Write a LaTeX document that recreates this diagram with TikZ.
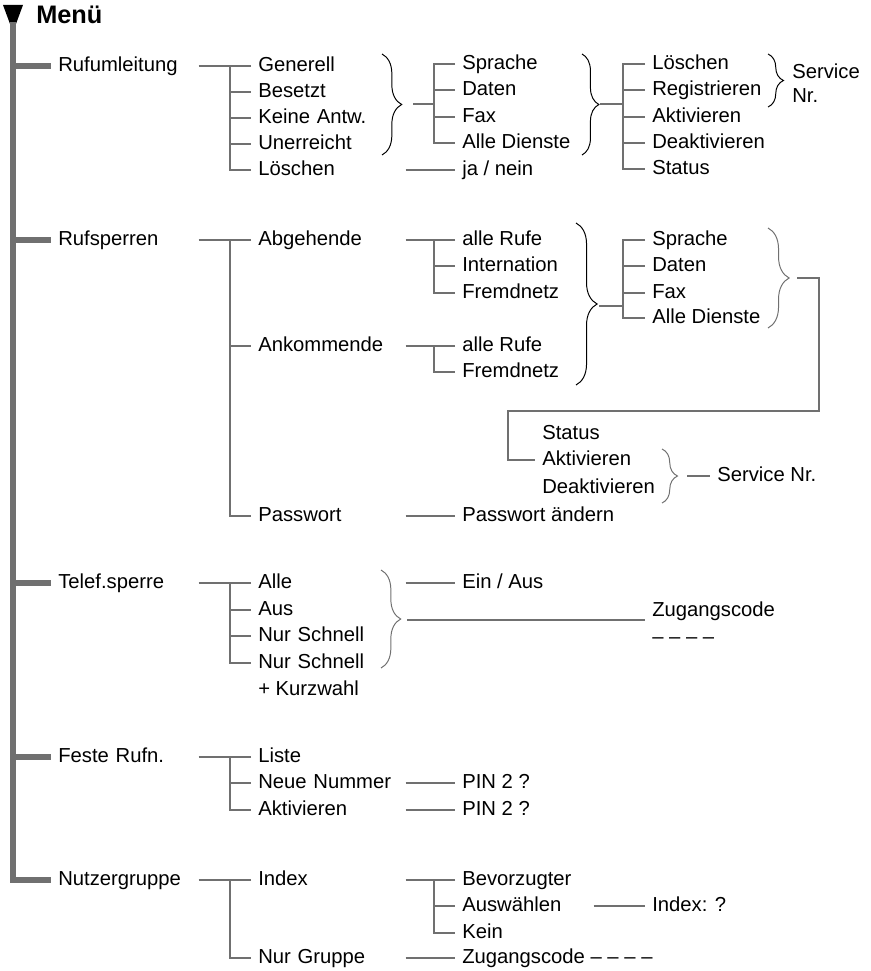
\documentclass[tikz,border=0pt]{standalone}
\usepackage{fontspec}
\setmainfont{Liberation Sans}
\usetikzlibrary{decorations.pathreplacing}
\newlength{\px}
\setlength{\px}{0.025cm}
\definecolor{linegray}{RGB}{112,112,112}

\begin{document}
\begin{tikzpicture}[x=0.025cm, y=-0.025cm,
    item/.style={anchor=west, inner xsep=7\px, inner ysep=0pt, text height=10.3pt, text depth=2.5pt, font=\fontsize{14.4}{17}\selectfont},
    head/.style={item, text width=133\px},
    sub/.style={item, text width=140\px},
    pick/.style={item, text width=124\px},
    note/.style={anchor=west, inner xsep=7\px, inner ysep=0pt, align=left, font=\fontsize{14.4}{17}\selectfont},
    trunk/.style={draw=linegray, line width=3.6pt},
    link/.style={draw=linegray, line width=2.1pt},
    curly/.style={draw=black, line width=0.7pt, decorate, decoration={brace, amplitude=#1}},
    curly/.default=14pt]
    \useasboundingbox (0,0) rectangle (870,971);

    % Menu head
    \fill (3,5) -- (23,5) -- (13,32) -- cycle;
    \node[item, font=\bfseries\fontsize{18}{22}\selectfont] (menu) at (29,18) {Menü};
    \coordinate (top) at (13,22);

    % First level
    \node[head] (rufum) at (51,66) {Rufumleitung};
    \node[head] (rufsp) at (51,240) {Rufsperren};
    \node[head] (telef) at (51,583) {Telef.sperre};
    \node[head] (feste) at (51,757) {Feste Rufn.};
    \node[head] (nutzer) at (51,880) {Nutzergruppe};

    \draw[trunk] (top) |- (nutzer.west);
    \foreach \n in {rufum,rufsp,telef,feste}
        \draw[trunk] (top |- \n.west) -- (\n.west);

    % Rufumleitung
    \node[sub] (rufum-gen) at (251,66) {Generell};
    \node[sub] (rufum-bes) at (251,92) {Besetzt};
    \node[sub] (rufum-kei) at (251,118) {Keine Antw.};
    \node[sub] (rufum-une) at (251,144) {Unerreicht};
    \node[sub] (rufum-loe) at (251,170) {Löschen};
    \coordinate (fk-rufum) at (230,66);
    \draw[link] (rufum.east) -- (rufum-gen.west);
    \draw[link] (rufum-gen.west) -- (fk-rufum) |- (rufum-loe.west);
    \foreach \k in {bes,kei,une}
        \draw[link] (fk-rufum |- rufum-\k.west) -- (rufum-\k.west);

    \node[item] (rufum-spr) at (455,64) {Sprache};
    \node[item] (rufum-dat) at (455,90) {Daten};
    \node[item] (rufum-fax) at (455,117) {Fax};
    \node[item] (rufum-ald) at (455,143) {Alle Dienste};
    \node[item] (rufum-ja) at (455,170) {ja / nein};
    \draw[curly=14pt] (382,54) -- (382,155);
    \coordinate (br-rufum) at (413,104);
    \coordinate (fk-dienst) at (434,64);
    \draw[link] (br-rufum) -- (br-rufum -| fk-dienst);
    \draw[link] (rufum-spr.west) -- (fk-dienst) |- (rufum-ald.west);
    \foreach \k in {dat,fax}
        \draw[link] (fk-dienst |- rufum-\k.west) -- (rufum-\k.west);
    \draw[link] (rufum-loe.east) -- (rufum-ja.west);

    \node[item] (rufum-del) at (645,64) {Löschen};
    \node[item] (rufum-reg) at (645,90) {Registrieren};
    \node[item] (rufum-akt) at (645,117) {Aktivieren};
    \node[item] (rufum-dea) at (645,143) {Deaktivieren};
    \node[item] (rufum-sta) at (645,169) {Status};
    \draw[curly=12pt] (582,54) -- (582,155);
    \coordinate (br-dienst) at (600,104);
    \coordinate (fk-aktion) at (623,64);
    \draw[link] (br-dienst) -- (br-dienst -| fk-aktion);
    \draw[link] (rufum-del.west) -- (fk-aktion) |- (rufum-sta.west);
    \foreach \k in {reg,akt,dea}
        \draw[link] (fk-aktion |- rufum-\k.west) -- (rufum-\k.west);
    \draw[curly=11pt] (768,54) -- (768,107);
    \node[note] (rufum-svc) at (785,83) {Service\\Nr.};

    % Rufsperren
    \node[sub] (rufsp-abg) at (251,240) {Abgehende};
    \node[sub] (rufsp-ank) at (251,346) {Ankommende};
    \node[sub] (rufsp-pas) at (251,516) {Passwort};
    \coordinate (fk-rufsp) at (230,240);
    \draw[link] (rufsp.east) -- (rufsp-abg.west);
    \draw[link] (rufsp-abg.west) -- (fk-rufsp) |- (rufsp-pas.west);
    \draw[link] (fk-rufsp |- rufsp-ank.west) -- (rufsp-ank.west);

    \node[item] (rufsp-alr) at (455,240) {alle Rufe};
    \node[item] (rufsp-int) at (455,266) {Internation};
    \node[item] (rufsp-frm) at (455,293) {Fremdnetz};
    \node[item] (rufsp-alk) at (455,346) {alle Rufe};
    \node[item] (rufsp-frk) at (455,372) {Fremdnetz};
    \node[item] (rufsp-pwa) at (455,516) {Passwort ändern};
    \coordinate (fk-abg) at (434,240);
    \coordinate (fk-ank) at (434,346);
    \draw[link] (rufsp-abg.east) -- (rufsp-alr.west);
    \draw[link] (rufsp-alr.west) -- (fk-abg) |- (rufsp-frm.west);
    \draw[link] (fk-abg |- rufsp-int.west) -- (rufsp-int.west);
    \draw[link] (rufsp-ank.east) -- (rufsp-alk.west);
    \draw[link] (rufsp-alk.west) -- (fk-ank) |- (rufsp-frk.west);
    \draw[link] (rufsp-pas.east) -- (rufsp-pwa.west);

    \node[item] (rufsp-spr) at (645,240) {Sprache};
    \node[item] (rufsp-dat) at (645,266) {Daten};
    \node[item] (rufsp-fax) at (645,293) {Fax};
    \node[item] (rufsp-ald) at (645,318) {Alle Dienste};
    \draw[curly=15pt] (576,223) -- (576,385);
    \coordinate (br-sperr) at (599,306);
    \coordinate (fk-sperr) at (623,240);
    \draw[link] (br-sperr) -- (br-sperr -| fk-sperr);
    \draw[link] (rufsp-spr.west) -- (fk-sperr) |- (rufsp-ald.west);
    \foreach \k in {dat,fax}
        \draw[link] (fk-sperr |- rufsp-\k.west) -- (rufsp-\k.west);

    \node[item] (rufsp-sta) at (535,434) {Status};
    \node[item] (rufsp-akt) at (535,460) {Aktivieren};
    \node[item] (rufsp-dea) at (535,488) {Deaktivieren};
    \draw[curly=15pt, draw=linegray] (768,228) -- (768,328);
    \coordinate (br-status) at (797,278);
    \coordinate (kn-a) at (819,411);
    \coordinate (kn-b) at (508,411);
    \draw[link] (br-status) -| (kn-a) -- (kn-b) |- (rufsp-akt.west);
    \draw[curly=11pt, draw=linegray] (662,449) -- (662,503);
    \coordinate (br-akt) at (687,476);
    \node[item] (rufsp-svc) at (710,476) {Service Nr.};
    \draw[link] (br-akt) -- (rufsp-svc.west);

    % Telef.sperre
    \node[sub] (telef-all) at (251,583) {Alle};
    \node[sub] (telef-aus) at (251,610) {Aus};
    \node[sub] (telef-nur) at (251,636) {Nur Schnell};
    \node[sub] (telef-nsk) at (251,663) {Nur Schnell};
    \node[item] (telef-kurz) at (251,690) {+ Kurzwahl};
    \coordinate (fk-telef) at (230,583);
    \draw[link] (telef.east) -- (telef-all.west);
    \draw[link] (telef-all.west) -- (fk-telef) |- (telef-nsk.west);
    \foreach \k in {aus,nur}
        \draw[link] (fk-telef |- telef-\k.west) -- (telef-\k.west);

    \draw[curly=14pt, draw=linegray] (381,570) -- (381,668);
    \coordinate (br-telef) at (407,620);
    \node[item] (telef-ein) at (455,583) {Ein / Aus};
    \node[note] (telef-zug) at (645,623) {Zugangscode\\[2pt]– – – –};
    \draw[link] (telef-all.east) -- (telef-ein.west);
    \draw[link] (br-telef) -- (br-telef -| telef-zug.west);

    % Feste Rufn.
    \node[sub] (feste-lis) at (251,757) {Liste};
    \node[sub] (feste-neu) at (251,783) {Neue Nummer};
    \node[sub] (feste-akt) at (251,810) {Aktivieren};
    \coordinate (fk-feste) at (230,757);
    \draw[link] (feste.east) -- (feste-lis.west);
    \draw[link] (feste-lis.west) -- (fk-feste) |- (feste-akt.west);
    \draw[link] (fk-feste |- feste-neu.west) -- (feste-neu.west);
    \node[item] (feste-pin1) at (455,783) {PIN 2 ?};
    \node[item] (feste-pin2) at (455,810) {PIN 2 ?};
    \draw[link] (feste-neu.east) -- (feste-pin1.west);
    \draw[link] (feste-akt.east) -- (feste-pin2.west);

    % Nutzergruppe
    \node[sub] (nutzer-idx) at (251,880) {Index};
    \node[sub] (nutzer-grp) at (251,958) {Nur Gruppe};
    \coordinate (fk-nutzer) at (230,880);
    \draw[link] (nutzer.east) -- (nutzer-idx.west);
    \draw[link] (nutzer-idx.west) -- (fk-nutzer) |- (nutzer-grp.west);

    \node[item] (nutzer-bev) at (455,880) {Bevorzugter};
    \node[pick] (nutzer-aus) at (455,906) {Auswählen};
    \node[item] (nutzer-kein) at (455,933) {Kein};
    \node[item] (nutzer-zug) at (455,958) {Zugangscode – – – –};
    \node[item] (nutzer-num) at (645,906) {Index: ?};
    \coordinate (fk-idx) at (434,880);
    \draw[link] (nutzer-idx.east) -- (nutzer-bev.west);
    \draw[link] (nutzer-bev.west) -- (fk-idx) |- (nutzer-kein.west);
    \draw[link] (fk-idx |- nutzer-aus.west) -- (nutzer-aus.west);
    \draw[link] (nutzer-aus.east) -- (nutzer-num.west);
    \draw[link] (nutzer-grp.east) -- (nutzer-zug.west);

\end{tikzpicture}
\end{document}
